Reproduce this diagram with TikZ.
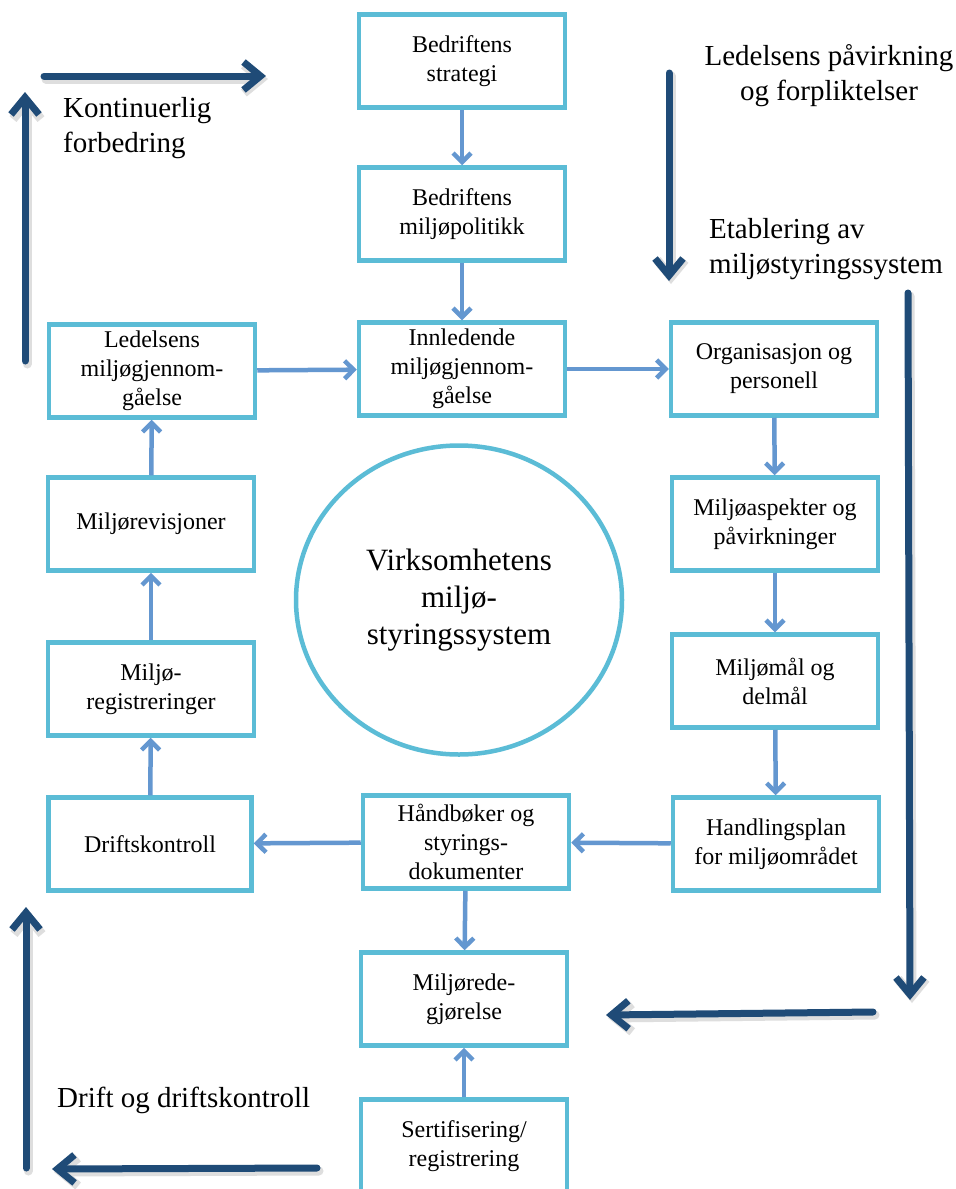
\documentclass[tikz,border=0pt]{standalone}
\usepackage{fontspec}
\setmainfont{Liberation Serif}
\usetikzlibrary{arrows.meta,shapes.geometric}
\definecolor{boxcyan}{HTML}{5BBCD6}
\definecolor{connblue}{HTML}{6497D0}
\definecolor{darkblue}{HTML}{1F4B77}
\tikzset{
  stepbox/.style={draw=boxcyan, line width=4.5pt, rectangle, minimum width=206pt, minimum height=93pt,
    inner sep=0pt, align=center, font=\fontsize{24}{29}\selectfont},
  conn/.style={draw=connblue, line width=4.5pt, -{Straight Barb[length=9pt,width=18pt]}},
  bigarrow/.style={draw=darkblue, line width=7pt, line cap=round, -{Straight Barb[length=17pt,width=28pt]}},
  bigshadow/.style={draw=black!13, line width=9pt, line cap=round, -{Straight Barb[length=17pt,width=28pt]}},
  biglabel/.style={inner sep=0pt, font=\fontsize{29}{35}\selectfont},
}
\begin{document}
\begin{tikzpicture}[x=1pt,y=-1pt]
\useasboundingbox (0,0) rectangle (956,1189);
\fill[white] (0,0) rectangle (956,1189);

% boxes
\node[stepbox] (strat) at (462,61) {Bedriftens\\strategi};
\node[stepbox] (pol) at (462,214) {Bedriftens\\miljøpolitikk};
\node[stepbox] (inn) at (462,369) {Innledende\\miljøgjennom-\\gåelse};
\node[stepbox] (led) at (152,371) {Ledelsens\\miljøgjennom-\\gåelse};
\node[stepbox] (org) at (774,369) {Organisasjon og\\personell};
\node[stepbox] (asp) at (775,524) {Miljøaspekter og\\påvirkninger};
\node[stepbox] (mal) at (775,681) {Miljømål og\\delmål};
\node[stepbox] (hand) at (776,844) {Handlingsplan\\for miljøområdet};
\node[stepbox] (hb) at (466,842) {Håndbøker og\\styrings-\\dokumenter};
\node[stepbox, minimum width=203pt] (drift) at (150,844) {Driftskontroll};
\node[stepbox] (reg) at (151,689) {Miljø-\\registreringer};
\node[stepbox] (rev) at (151,524) {Miljørevisjoner};
\node[stepbox] (red) at (464,999) {Miljørede-\\gjørelse};
\node[stepbox] (sert) at (464,1146) {Sertifisering/\\registrering};

% central ellipse
\node[draw=boxcyan, line width=4.5pt, ellipse, minimum width=326pt, minimum height=309pt, inner sep=0pt,
  align=center, font=\fontsize{31}{37}\selectfont] (core) at (459,600) {Virksomhetens\\miljø-\\styringssystem};

% connectors
\draw[conn] (strat) -- (pol);
\draw[conn] (pol) -- (inn);
\draw[conn] (led) -- (inn);
\draw[conn] (inn) -- (org);
\draw[conn] (org) -- (asp);
\draw[conn] (asp) -- (mal);
\draw[conn] (mal) -- (hand);
\draw[conn] (hand) -- (hb);
\draw[conn] (hb) -- (drift);
\draw[conn] (hb) -- (red);
\draw[conn] (sert) -- (red);
\draw[conn] (drift) -- (reg);
\draw[conn] (reg) -- (rev);
\draw[conn] (rev) -- (led);

% big labels (base anchor = last line's baseline)
\node[biglabel, anchor=base west, align=left] (kont) at (63,152) {Kontinuerlig\\forbedring};
\node[biglabel, anchor=base, align=center] (ledp) at (829,100) {Ledelsens påvirkning\\og forpliktelser};
\node[biglabel, anchor=base west, align=left] (etab) at (709,273) {Etablering av\\miljøstyringssystem};
\node[biglabel, anchor=base west] (driftl) at (57,1107) {Drift og driftskontroll};

% big arrow coordinates
\coordinate (s1) at (44,76);   \coordinate (e1) at (266,76);
\coordinate (s2) at (25,361);  \coordinate (e2) at (25,92);
\coordinate (s3) at (669,73);  \coordinate (e3) at (669,281);
\coordinate (s4) at (908,293); \coordinate (e4) at (910,1000);
\coordinate (s5) at (873,1012);\coordinate (e5) at (606,1015);
\coordinate (s6) at (317,1168);\coordinate (e6) at (52,1169);
\coordinate (s7) at (26,1168); \coordinate (e7) at (26,907);

\foreach \i in {1,...,7} {
  \draw[bigshadow, transform canvas={shift={(2pt,-3pt)}}] (s\i) -- (e\i);
}
\foreach \i in {1,...,7} {
  \draw[bigarrow] (s\i) -- (e\i);
}
\end{tikzpicture}
\end{document}
